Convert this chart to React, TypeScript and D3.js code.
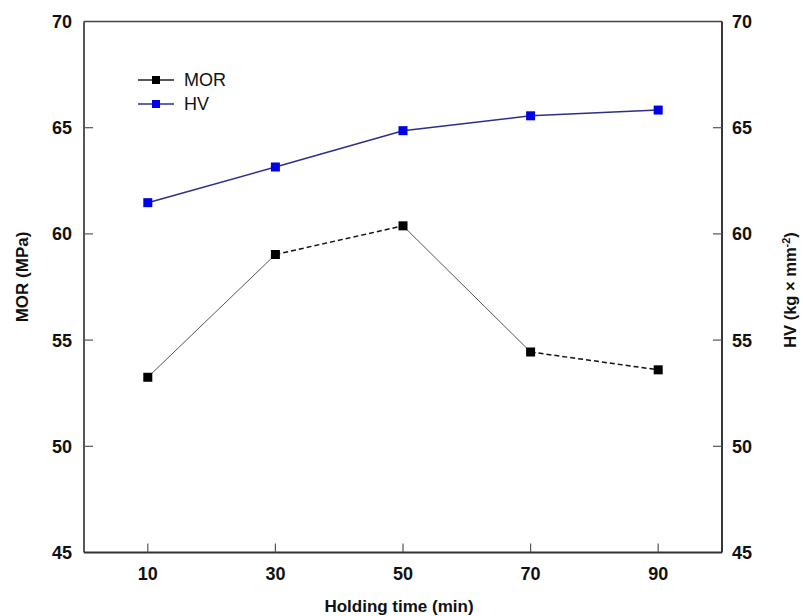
import React from "react";
import * as d3 from "d3";

const holdingTimes = [10, 30, 50, 70, 90];
const morValues = [53.25, 59.03, 60.38, 54.44, 53.6];
const hvValues = [61.47, 63.15, 64.86, 65.56, 65.83];
const xTicks = [10, 30, 50, 70, 90];
const yTicks = [45, 50, 55, 60, 65, 70];
// segment styles for MOR line: true = dashed
const morSegmentDashed = [false, true, false, true];

const W = 803;
const H = 616;
const left = 84;
const right = 722;
const top = 21.5;
const bottom = 552.5;
const font = "'Liberation Sans', Arial, sans-serif";

export default function App() {
  const x = d3.scaleLinear().domain([0, 100]).range([left, right]);
  const yL = d3.scaleLinear().domain([45, 70]).range([bottom, top]);
  const yR = d3.scaleLinear().domain([45, 70]).range([bottom, top]);
  const line = d3
    .line<[number, number]>()
    .x((d) => x(d[0]))
    .y((d) => d[1]);

  const morPts: [number, number][] = holdingTimes.map((t, i) => [t, yL(morValues[i])]);
  const hvPts: [number, number][] = holdingTimes.map((t, i) => [t, yR(hvValues[i])]);
  const ms = 9;

  return (
    <svg width={W} height={H} style={{ position: "absolute", left: 0, top: 0, background: "#fff" }}>
      {/* frame */}
      <line x1={left} x2={right} y1={top} y2={top} stroke="#444" strokeWidth={1.4} />
      <line x1={right} x2={right} y1={top} y2={bottom} stroke="#222" strokeWidth={1.8} />
      <line x1={left} x2={left} y1={top} y2={bottom} stroke="#444" strokeWidth={1.8} />
      <line x1={left} x2={right} y1={bottom} y2={bottom} stroke="#333" strokeWidth={2} />

      {/* left ticks */}
      {yTicks.map((v) => (
        <g key={"l" + v}>
          {v !== 45 && v !== 70 && (
            <line x1={left} x2={left + 9} y1={yL(v)} y2={yL(v)} stroke="#555" strokeWidth={1.2} />
          )}
          <text x={left - 12} y={yL(v)} dy="0.36em" textAnchor="end" fontFamily={font} fontWeight="bold" fontSize={18} fill="#111">
            {v}
          </text>
        </g>
      ))}
      {/* right ticks */}
      {yTicks.map((v) => (
        <g key={"r" + v}>
          {v !== 45 && v !== 70 && (
            <line x1={right} x2={right - 9} y1={yR(v)} y2={yR(v)} stroke="#555" strokeWidth={1.2} />
          )}
          <text x={right + 10} y={yR(v)} dy="0.36em" textAnchor="start" fontFamily={font} fontWeight="bold" fontSize={18} fill="#111">
            {v}
          </text>
        </g>
      ))}
      {/* bottom ticks */}
      {xTicks.map((t) => (
        <g key={"x" + t}>
          <line x1={x(t)} x2={x(t)} y1={bottom} y2={bottom - 9} stroke="#555" strokeWidth={1.2} />
          <text x={x(t)} y={bottom + 21} dy="0.36em" textAnchor="middle" fontFamily={font} fontWeight="bold" fontSize={18} fill="#111">
            {t}
          </text>
        </g>
      ))}

      {/* axis titles */}
      <text x={(left + right) / 2 - 4} y={606} dy="0.36em" textAnchor="middle" fontFamily={font} fontWeight="bold" fontSize={17} fill="#111">
        Holding time (min)
      </text>
      <text transform={`translate(22,277) rotate(-90)`} dy="0.36em" textAnchor="middle" fontFamily={font} fontWeight="bold" fontSize={17} fill="#111">
        MOR (MPa)
      </text>
      <text transform={`translate(790,290) rotate(-90)`} dy="0.36em" textAnchor="middle" fontFamily={font} fontWeight="bold" fontSize={16.5} fill="#111">
        HV (kg × mm<tspan dy="-6" fontSize={11}>-2</tspan><tspan dy="6">)</tspan>
      </text>

      {/* MOR line segments */}
      {morPts.slice(0, -1).map((p, i) => (
        <path
          key={"ms" + i}
          d={line([p, morPts[i + 1]]) || ""}
          fill="none"
          stroke={morSegmentDashed[i] ? "#111" : "#555"}
          strokeWidth={morSegmentDashed[i] ? 1.5 : 1}
          strokeDasharray={morSegmentDashed[i] ? "5,3" : undefined}
        />
      ))}
      {/* HV line */}
      <path d={line(hvPts) || ""} fill="none" stroke="#2e2e8a" strokeWidth={1.5} />

      {morPts.map((p, i) => (
        <rect key={"mm" + i} x={x(p[0]) - ms / 2} y={p[1] - ms / 2} width={ms} height={ms} fill="#000" />
      ))}
      {hvPts.map((p, i) => (
        <rect key={"hm" + i} x={x(p[0]) - ms / 2} y={p[1] - ms / 2} width={ms} height={ms} fill="#0000e6" />
      ))}

      {/* legend */}
      <g>
        <line x1={138} x2={174} y1={80} y2={80} stroke="#222" strokeWidth={1.5} />
        <rect x={156 - 4} y={80 - 4} width={8} height={8} fill="#000" />
        <text x={184} y={80} dy="0.36em" fontFamily={font} fontSize={18} fill="#111">MOR</text>
        <line x1={138} x2={174} y1={104} y2={104} stroke="#2e2e9a" strokeWidth={1.5} />
        <rect x={156 - 4} y={104 - 4} width={8} height={8} fill="#0000e6" />
        <text x={184} y={104} dy="0.36em" fontFamily={font} fontSize={18} fill="#111">HV</text>
      </g>
    </svg>
  );
}
